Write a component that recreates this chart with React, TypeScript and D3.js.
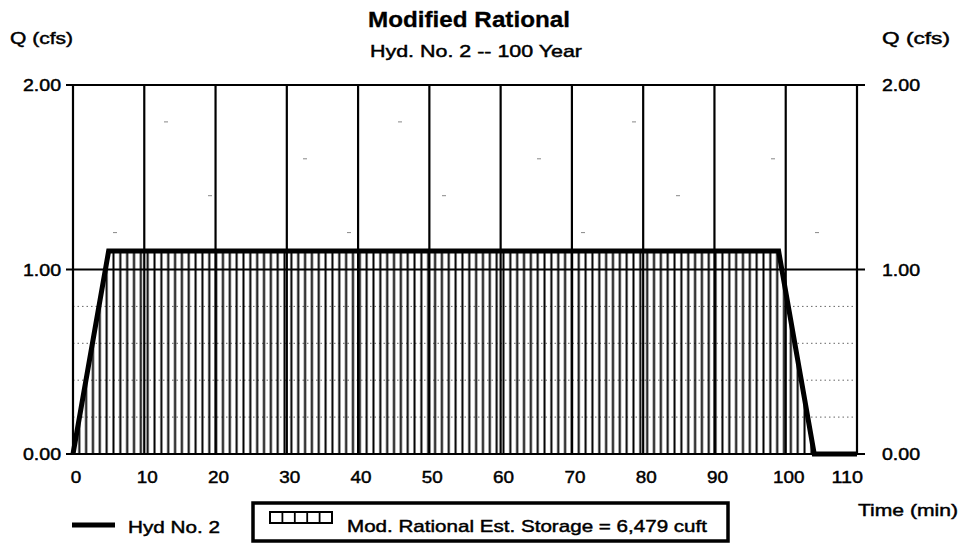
import React from "react";
import * as d3 from "d3";

// ---- data ----
const hydTime = [0, 5, 99, 104, 110];
const hydFlow = [0, 1.1, 1.1, 0, 0];
const xTicks = [0, 10, 20, 30, 40, 50, 60, 70, 80, 90, 100, 110];
const yTicks = [0, 1, 2];
const yMinorLow = [0.2, 0.4, 0.6, 0.8];
const yMinorHigh = [1.2, 1.4, 1.6, 1.8];
const titleText = "Modified Rational";
const subtitleText = "Hyd. No. 2 -- 100 Year";
const yAxisLabel = "Q (cfs)";
const xAxisLabel = "Time (min)";
const seriesName = "Hyd No. 2";
const storageLabel = "Mod. Rational Est. Storage = 6,479 cuft";
const hatchStepMin = 0.96;

const W = 961;
const H = 545;
const FONT = "'Liberation Sans', Arial, sans-serif";
const txt = { fontFamily: FONT, stroke: "#000", strokeWidth: 0.45, fill: "#000" } as const;

export default function App() {
  const x = d3.scaleLinear().domain([0, 110]).range([73, 857]);
  const y = d3.scaleLinear().domain([0, 2]).range([454, 85]);
  const pts = hydTime.map((t, i) => [t, hydFlow[i]] as [number, number]);
  const line = d3
    .line<[number, number]>()
    .x((d) => x(d[0]))
    .y((d) => y(d[1]));
  const area = d3
    .area<[number, number]>()
    .x((d) => x(d[0]))
    .y0(y(0))
    .y1((d) => y(d[1]));
  const step = x(hatchStepMin) - x(0);
  const fmt = d3.format(".2f");

  return (
    <div style={{ position: "absolute", left: 0, top: 0 }}>
      <svg width={W} height={H} style={{ display: "block", background: "#fff" }}>
        <defs>
          <pattern
            id="hatch"
            patternUnits="userSpaceOnUse"
            x={x(0.4)}
            y={0}
            width={step}
            height={10}
          >
            <line x1={step / 2} x2={step / 2} y1={0} y2={10} stroke="#000" strokeWidth={2} />
          </pattern>
        </defs>

        {/* minor dotted gridlines */}
        {yMinorLow.map((v) => (
          <line
            key={"m" + v}
            x1={x(0)}
            x2={x(110)}
            y1={y(v)}
            y2={y(v)}
            stroke="#666"
            strokeWidth={1}
            strokeDasharray="1.5,3"
          />
        ))}
        {yMinorHigh.map((v, i) => (
          <line
            key={"mh" + v}
            x1={x(0)}
            x2={x(110)}
            y1={y(v)}
            y2={y(v)}
            stroke="#888"
            strokeWidth={1}
            strokeDasharray="4,230"
            strokeDashoffset={-40 - i * 95}
          />
        ))}

        {/* hatched storage */}
        <path d={area(pts) || ""} fill="url(#hatch)" stroke="none" />

        {/* vertical gridlines */}
        {xTicks.map((t) => (
          <line
            key={"v" + t}
            x1={x(t)}
            x2={x(t)}
            y1={y(2)}
            y2={y(0)}
            stroke="#000"
            strokeWidth={2.2}
          />
        ))}
        {/* horizontal major gridlines and ticks */}
        {yTicks.map((v) => (
          <g key={"h" + v}>
            <line x1={66} x2={865} y1={y(v)} y2={y(v)} stroke="#000" strokeWidth={2.2} />
            <text
              x={61}
              y={y(v) + 6}
              textAnchor="end"
              {...txt}
              fontSize={16}
              textLength={38}
              lengthAdjust="spacingAndGlyphs"
            >
              {fmt(v)}
            </text>
            <text
              x={882}
              y={y(v) + 6}
              {...txt}
              fontSize={16}
              textLength={38}
              lengthAdjust="spacingAndGlyphs"
            >
              {fmt(v)}
            </text>
          </g>
        ))}

        {/* hydrograph */}
        <path
          d={line(pts) || ""}
          fill="none"
          stroke="#000"
          strokeWidth={5}
          strokeLinejoin="miter"
        />

        {/* x tick labels */}
        {xTicks.map((t, i) => {
          const last = i === xTicks.length - 1;
          const label = String(t);
          return (
            <text
              key={"xl" + t}
              x={last ? 863 : x(t) + 3}
              y={483}
              textAnchor={last ? "end" : "middle"}
              {...txt}
              fontSize={17}
              textLength={label.length * 10.5}
              lengthAdjust="spacingAndGlyphs"
            >
              {label}
            </text>
          );
        })}

        {/* titles */}
        <text
          x={368}
          y={27}
          {...txt}
          strokeWidth={0.3}
          fontWeight="bold"
          fontSize={22}
          textLength={202}
          lengthAdjust="spacingAndGlyphs"
        >
          {titleText}
        </text>
        <text
          x={370}
          y={57}
          {...txt}
          fontSize={17}
          textLength={212}
          lengthAdjust="spacingAndGlyphs"
        >
          {subtitleText}
        </text>
        <text
          x={10}
          y={44}
          {...txt}
          fontSize={17}
          textLength={63}
          lengthAdjust="spacingAndGlyphs"
        >
          {yAxisLabel}
        </text>
        <text
          x={882}
          y={44}
          {...txt}
          fontSize={17}
          textLength={68}
          lengthAdjust="spacingAndGlyphs"
        >
          {yAxisLabel}
        </text>
        <text
          x={858}
          y={516}
          {...txt}
          fontSize={17}
          textLength={100}
          lengthAdjust="spacingAndGlyphs"
        >
          {xAxisLabel}
        </text>

        {/* legend */}
        <line x1={72} x2={115} y1={525} y2={525} stroke="#000" strokeWidth={5} />
        <text
          x={128}
          y={533}
          {...txt}
          fontSize={17}
          textLength={92}
          lengthAdjust="spacingAndGlyphs"
        >
          {seriesName}
        </text>
        <rect x={253} y={503} width={475} height={38} fill="none" stroke="#000" strokeWidth={3.5} />
        <rect x={270} y={512} width={62} height={11} fill="none" stroke="#000" strokeWidth={2} />
        {d3.range(1, 5).map((k) => (
          <line
            key={"li" + k}
            x1={270 + (62 / 5) * k}
            x2={270 + (62 / 5) * k}
            y1={512}
            y2={523}
            stroke="#000"
            strokeWidth={1.8}
          />
        ))}
        <text
          x={347}
          y={532}
          {...txt}
          fontSize={17}
          textLength={360}
          lengthAdjust="spacingAndGlyphs"
        >
          {storageLabel}
        </text>
      </svg>
    </div>
  );
}
